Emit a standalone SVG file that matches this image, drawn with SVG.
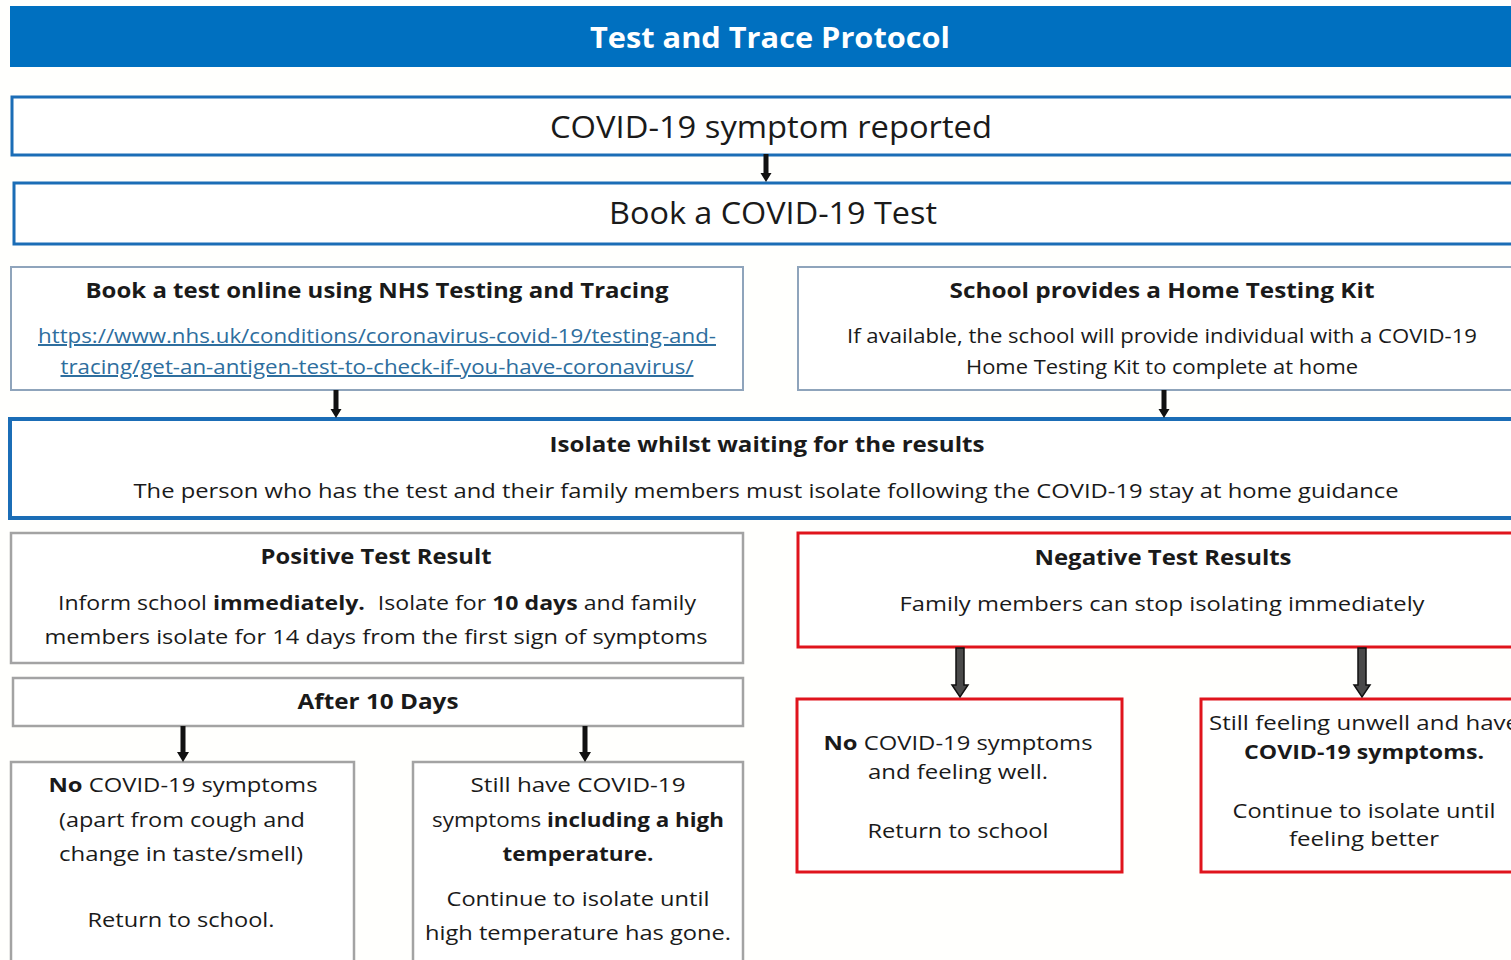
<svg xmlns="http://www.w3.org/2000/svg" width="1511" height="960" viewBox="0 0 1511 960">
  <defs>
    <style>
      text { font-family: "Open Sans", "Liberation Sans", sans-serif; fill: #1a1a1a; text-anchor: middle; }
      .title { fill: #ffffff; font-weight: 700; font-size: 28px; }
      .big { font-size: 31px; }
      .head { font-weight: 700; font-size: 22px; }
      .body { font-size: 20px; }
      .link { font-size: 20px; fill: #2e6e9e; text-decoration: underline; }
      .b { font-weight: 700; }
      .blue { fill: #ffffff; stroke: #1b6db6; stroke-width: 3; }
      .blue-thick { fill: #ffffff; stroke: #1b6db6; stroke-width: 4; }
      .steel { fill: #ffffff; stroke: #8fa4bb; stroke-width: 2; }
      .grey { fill: #ffffff; stroke: #a3a3a3; stroke-width: 2.5; }
      .red { fill: #ffffff; stroke: #e0141c; stroke-width: 3; }
      .arrow { fill: #111111; }
      .block { fill: #4a4a4a; stroke: #111111; stroke-width: 1.5; }
    </style>
    <!-- solid down arrow, tip at origin, 28px long -->
    <path id="down" d="M-2.5,-28 L2.5,-28 L2.5,-9 L5.5,-9 L0,0 L-5.5,-9 L-2.5,-9 Z"/>
    <path id="down-long" d="M-2.5,-36 L2.5,-36 L2.5,-10 L6,-10 L0,0 L-6,-10 L-2.5,-10 Z"/>
  </defs>

  <rect width="1511" height="960" fill="#fffffd"/>

  <!-- header banner -->
  <g id="banner">
    <rect x="10" y="6" width="1510" height="61" fill="#0070c0"/>
    <text class="title" x="770" y="48" textLength="360" lengthAdjust="spacingAndGlyphs">Test and Trace Protocol</text>
  </g>

  <g id="symptom-reported">
    <rect class="blue" x="12" y="97" width="1510" height="58"/>
    <text class="big" x="771" y="138" textLength="442" lengthAdjust="spacingAndGlyphs">COVID-19 symptom reported</text>
  </g>

  <g id="book-test">
    <rect class="blue" x="14" y="183" width="1510" height="61"/>
    <text class="big" x="773" y="224" textLength="328" lengthAdjust="spacingAndGlyphs">Book a COVID-19 Test</text>
  </g>

  <g id="book-online">
    <rect class="steel" x="11" y="267" width="732" height="123"/>
    <text class="head" x="377" y="298" textLength="583" lengthAdjust="spacingAndGlyphs">Book a test online using NHS Testing and Tracing</text>
    <text class="link" x="377" y="343" textLength="678" lengthAdjust="spacingAndGlyphs">https://www.nhs.uk/conditions/coronavirus-covid-19/testing-and-</text>
    <text class="link" x="377" y="374" textLength="633" lengthAdjust="spacingAndGlyphs">tracing/get-an-antigen-test-to-check-if-you-have-coronavirus/</text>
  </g>

  <g id="home-kit">
    <rect class="steel" x="798" y="267" width="730" height="123"/>
    <text class="head" x="1162" y="298" textLength="425" lengthAdjust="spacingAndGlyphs">School provides a Home Testing Kit</text>
    <text class="body" x="1162" y="343" textLength="630" lengthAdjust="spacingAndGlyphs">If available, the school will provide individual with a COVID-19</text>
    <text class="body" x="1162" y="374" textLength="392" lengthAdjust="spacingAndGlyphs">Home Testing Kit to complete at home</text>
  </g>

  <g id="isolate-waiting">
    <rect class="blue-thick" x="10" y="419" width="1515" height="99"/>
    <text class="head" x="767" y="452" textLength="435" lengthAdjust="spacingAndGlyphs">Isolate whilst waiting for the results</text>
    <text class="body" x="766" y="498" textLength="1265" lengthAdjust="spacingAndGlyphs">The person who has the test and their family members must isolate following the COVID-19 stay at home guidance</text>
  </g>

  <g id="positive">
    <rect class="grey" x="11" y="533" width="732" height="130"/>
    <text class="head" x="376" y="564" textLength="231" lengthAdjust="spacingAndGlyphs">Positive Test Result</text>
    <text class="body" x="377" y="610" textLength="638" lengthAdjust="spacingAndGlyphs">Inform school <tspan class="b">immediately.</tspan><tspan dx="6"> Isolate for </tspan><tspan class="b">10 days</tspan> and family</text>
    <text class="body" x="376" y="644" textLength="663" lengthAdjust="spacingAndGlyphs">members isolate for 14 days from the first sign of symptoms</text>
  </g>

  <g id="after-10-days">
    <rect class="grey" x="13" y="678" width="730" height="48"/>
    <text class="head" x="378" y="709" textLength="161" lengthAdjust="spacingAndGlyphs">After 10 Days</text>
  </g>

  <g id="positive-well">
    <rect class="grey" x="11" y="762" width="343" height="220"/>
    <text class="body" x="183" y="792" textLength="269" lengthAdjust="spacingAndGlyphs"><tspan class="b">No</tspan> COVID-19 symptoms</text>
    <text class="body" x="182" y="827" textLength="246" lengthAdjust="spacingAndGlyphs">(apart from cough and</text>
    <text class="body" x="181" y="861" textLength="244" lengthAdjust="spacingAndGlyphs">change in taste/smell)</text>
    <text class="body" x="181" y="927" textLength="187" lengthAdjust="spacingAndGlyphs">Return to school.</text>
  </g>

  <g id="positive-unwell">
    <rect class="grey" x="413" y="762" width="330" height="220"/>
    <text class="body" x="578" y="792" textLength="215" lengthAdjust="spacingAndGlyphs">Still have COVID-19</text>
    <text class="body" x="578" y="827" textLength="292" lengthAdjust="spacingAndGlyphs">symptoms <tspan class="b">including a high</tspan></text>
    <text class="body b" x="578" y="861" textLength="151" lengthAdjust="spacingAndGlyphs">temperature.</text>
    <text class="body" x="578" y="906" textLength="263" lengthAdjust="spacingAndGlyphs">Continue to isolate until</text>
    <text class="body" x="578" y="940" textLength="306" lengthAdjust="spacingAndGlyphs">high temperature has gone.</text>
  </g>

  <g id="negative">
    <rect class="red" x="798" y="533" width="730" height="114"/>
    <text class="head" x="1163" y="565" textLength="257" lengthAdjust="spacingAndGlyphs">Negative Test Results</text>
    <text class="body" x="1162" y="611" textLength="525" lengthAdjust="spacingAndGlyphs">Family members can stop isolating immediately</text>
  </g>

  <g id="negative-well">
    <rect class="red" x="797" y="699" width="325" height="173"/>
    <text class="body" x="958" y="750" textLength="269" lengthAdjust="spacingAndGlyphs"><tspan class="b">No</tspan> COVID-19 symptoms</text>
    <text class="body" x="958" y="779" textLength="180" lengthAdjust="spacingAndGlyphs">and feeling well.</text>
    <text class="body" x="958" y="838" textLength="181" lengthAdjust="spacingAndGlyphs">Return to school</text>
  </g>

  <g id="negative-unwell">
    <rect class="red" x="1201" y="699" width="330" height="173"/>
    <text class="body" x="1364" y="730" textLength="310" lengthAdjust="spacingAndGlyphs">Still feeling unwell and have</text>
    <text class="body b" x="1364" y="759" textLength="240" lengthAdjust="spacingAndGlyphs">COVID-19 symptoms.</text>
    <text class="body" x="1364" y="818" textLength="263" lengthAdjust="spacingAndGlyphs">Continue to isolate until</text>
    <text class="body" x="1364" y="846" textLength="150" lengthAdjust="spacingAndGlyphs">feeling better</text>
  </g>

  <!-- connectors -->
  <g id="connectors">
    <use href="#down" class="arrow" x="766" y="182"/>
    <use href="#down" class="arrow" x="336" y="418"/>
    <use href="#down" class="arrow" x="1164" y="418"/>
    <use href="#down-long" class="arrow" x="183" y="762"/>
    <use href="#down-long" class="arrow" x="585" y="762"/>
    <path class="block" d="M956,648 L964,648 L964,685 L968,685 L960,697 L952,685 L956,685 Z"/>
    <path class="block" d="M1358,648 L1366,648 L1366,685 L1370,685 L1362,697 L1354,685 L1358,685 Z"/>
  </g>
</svg>
